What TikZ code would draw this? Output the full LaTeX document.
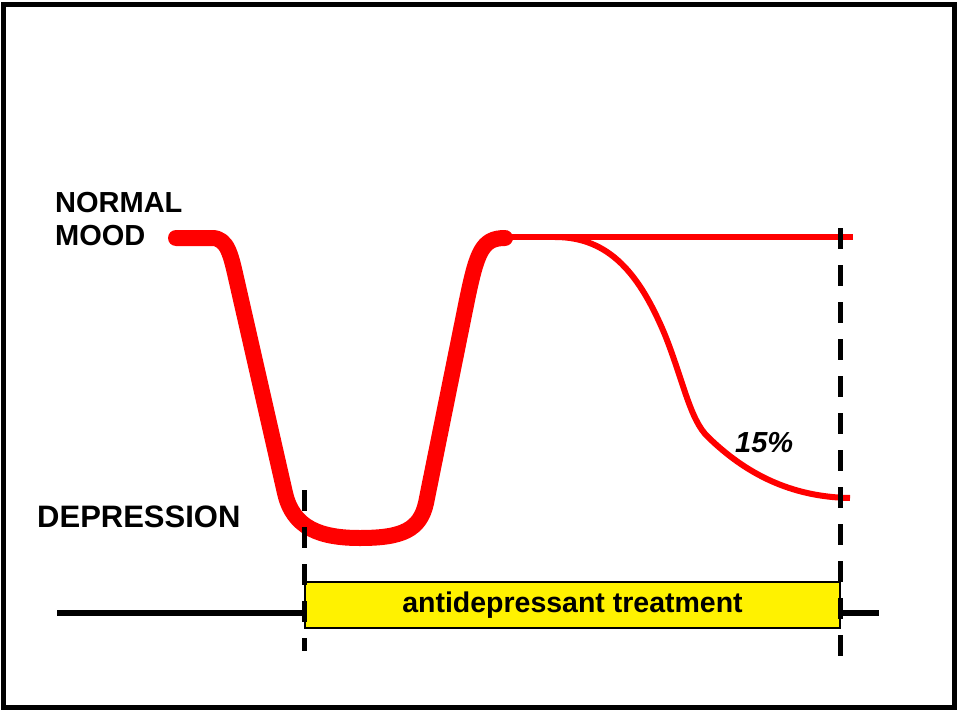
\documentclass[tikz,border=0pt]{standalone}
\usepackage{fontspec}
\setmainfont{Liberation Sans}
\usetikzlibrary{calc}
\tikzset{
  outerframe/.style = {line width=5pt, black},
  moodthick/.style  = {line width=16pt, red, line cap=round, line join=round},
  moodthin/.style   = {line width=6pt, red, line join=round},
  timeline/.style   = {line width=6pt, black},
  phasemark/.style  = {line width=5pt, black, dash pattern=on 21pt off 16pt},
  treatbox/.style   = {draw=black, line width=1.4pt, fill=yellow,
                       minimum width=535pt, minimum height=46pt, inner sep=0pt,
                       font=\fontsize{28.5}{30}\selectfont\bfseries},
  moodlabel/.style  = {font=\fontsize{29}{33}\selectfont\bfseries, inner sep=0pt},
}

\begin{document}
\begin{tikzpicture}[x=1pt, y=-1pt]

    \useasboundingbox (0,0) rectangle (960,714);

    % --- frame -------------------------------------------------------------
    \draw[outerframe] (3,5) rectangle (954,707);

    % --- labels --------------------------------------------------------------
    \node[moodlabel, anchor=base west] (normal) at (55,212) {NORMAL};
    \node[moodlabel, anchor=base west] (mood) at (55,245) {MOOD};
    \node[moodlabel, anchor=base west, font=\fontsize{31}{33}\selectfont\bfseries]
      (depr) at (37,527) {DEPRESSION};
    \node[moodlabel, anchor=base west, font=\fontsize{29}{33}\selectfont\bfseries\itshape]
      (relapse) at (735,452) {15\%};

    % --- treatment bar -----------------------------------------------------
    \node[treatbox] (treat) at (572.5,605) {antidepressant treatment};
    \coordinate (tl) at (57,613);
    \coordinate (tr) at (879,613);
    \draw[timeline] (tl) -- (treat.west |- tl);
    \draw[timeline] (treat.east |- tr) -- (tr);

    % --- mood course ---------------------------------------------------------
    \draw[moodthick] (176,238) -- (212,238)
      .. controls (228,238) and (231,256) .. (237,282)
      -- (285,493)
      .. controls (293,528) and (320,538) .. (360,538)
      .. controls (402,538) and (420,530) .. (426,503)
      -- (467,300)
      .. controls (477,252) and (482,238) .. (505,238);
    \draw[moodthin] (500,237) -- (853,237);

    % relapse branch
    \draw[moodthin] (555,237)
      .. controls (610,237) and (640,275) .. (665,335)
      .. controls (683,380) and (690,420) .. (708,437)
      .. controls (745,473) and (790,497) .. (850,498);

    % --- start / end of treatment -------------------------------------------
    \coordinate (ts1) at (304,490);
    \coordinate (ts2) at (304,651);
    \coordinate (te1) at (840,228);
    \coordinate (te2) at (840,656);
    \draw[phasemark] (ts1) -- (ts2);
    \draw[phasemark] (te1) -- (te2);

  \end{tikzpicture}
\end{document}
